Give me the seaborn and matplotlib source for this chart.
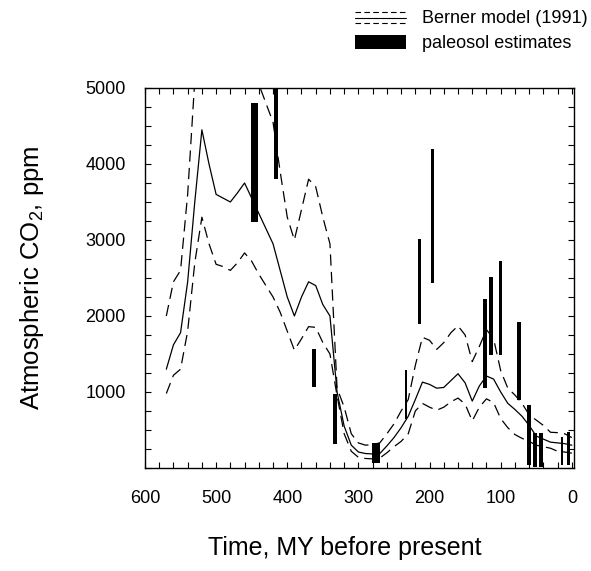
import numpy as np
import pandas as pd
import matplotlib
matplotlib.use("Agg")
import matplotlib.pyplot as plt
import seaborn as sns
from matplotlib.lines import Line2D
from matplotlib.patches import Patch
from matplotlib.legend_handler import HandlerBase
from matplotlib.ticker import MultipleLocator

# ---------------- data ----------------
ages = [570, 560, 550, 540, 530, 520, 510, 500, 490, 480, 470, 460, 450, 440, 430,
        420, 410, 400, 390, 380, 370, 360, 350, 340, 330, 320, 310, 300, 290, 280,
        270, 260, 250, 240, 230, 220, 210, 200, 190, 180, 170, 160, 150, 140, 130,
        120, 110, 100, 90, 80, 70, 60, 50, 40, 30, 20, 10, 0]

model_mean = [1300, 1620, 1780, 2450, 3500, 4450, 4000, 3600, 3550, 3500, 3620, 3750,
              3550, 3350, 3150, 2950, 2600, 2250, 2000, 2250, 2450, 2400, 2150, 2000,
              1000, 550, 300, 210, 190, 185, 190, 290, 400, 530, 680, 900, 1130, 1100,
              1050, 1060, 1150, 1240, 1120, 880, 1080, 1210, 1170, 1000, 850, 770, 680,
              560, 420, 380, 340, 330, 320, 300]

model_upper = [2000, 2450, 2600, 3600, 5100, 6500, 6000, 5400, 5300, 5250, 5400, 5600,
               5300, 5050, 4800, 4550, 3900, 3300, 3000, 3400, 3800, 3700, 3300, 2950,
               1050, 800, 450, 330, 300, 310, 330, 450, 580, 750, 900, 1350, 1720, 1680,
               1560, 1650, 1780, 1870, 1750, 1400, 1600, 1820, 1700, 1280, 1050, 960, 850,
               700, 630, 560, 470, 465, 450, 400]

model_lower = [980, 1220, 1300, 1800, 2700, 3300, 2950, 2680, 2650, 2600, 2700, 2830,
               2720, 2550, 2400, 2250, 2050, 1800, 1550, 1700, 1860, 1850, 1650, 1500,
               950, 450, 220, 140, 125, 120, 130, 200, 280, 350, 450, 750, 850, 800,
               760, 800, 870, 920, 840, 620, 800, 910, 860, 650, 530, 440, 390,
               350, 300, 280, 260, 220, 210, 195]

# paleosol estimates: age (MY), age span (MY), low and high CO2 (ppm)
paleo_age = [446, 416, 362, 333, 275, 233, 214, 196, 122, 114, 100, 74, 60, 52, 43, 14, 5]
paleo_span = [10, 5, 6, 6, 12, 4, 5, 5, 5, 5, 5, 5, 5, 5, 5, 3, 4]
paleo_low = [3240, 3800, 1060, 320, 70, 640, 1890, 2430, 1050, 1490, 1490, 890, 40, 15, 15, 40, 40]
paleo_high = [4800, 5600, 1570, 970, 330, 1290, 3010, 4200, 2220, 2510, 2720, 1920, 830, 460, 460, 410, 470]

x_ticks = [600, 500, 400, 300, 200, 100, 0]
y_ticks = [1000, 2000, 3000, 4000, 5000]

# ---------------- style ----------------
sns.set_style("ticks")
plt.rcParams["font.family"] = ["Liberation Sans", "DejaVu Sans"]
plt.rcParams["mathtext.fontset"] = "custom"
plt.rcParams["mathtext.rm"] = "Liberation Sans"
plt.rcParams["text.color"] = "black"
plt.rcParams["axes.labelcolor"] = "black"

fig = plt.figure(figsize=(5.91, 5.71), dpi=100)
ax = fig.add_axes([0.2453, 0.1804, 0.7259, 0.6655])

df = pd.DataFrame({
    "age": ages * 3,
    "co2": model_upper + model_mean + model_lower,
    "series": ["upper"] * len(ages) + ["mean"] * len(ages) + ["lower"] * len(ages),
})
sns.lineplot(data=df, x="age", y="co2", units="series", style="series",
             dashes={"upper": (9, 5), "mean": "", "lower": (9, 5)},
             color="black", linewidth=0.9, estimator=None, sort=False,
             legend=False, ax=ax, zorder=2)

ax.bar(paleo_age, np.array(paleo_high) - np.array(paleo_low), bottom=paleo_low,
       width=paleo_span, color="black", edgecolor="none", zorder=3)

ax.set_xlim(600, -3)
ax.set_ylim(0, 5000)
ax.set_xticks(x_ticks)
ax.set_yticks(y_ticks)
ax.xaxis.set_minor_locator(MultipleLocator(20))
ax.yaxis.set_minor_locator(MultipleLocator(250))
ax.tick_params(which="both", direction="in", top=True, right=True,
               length=4, width=0.8, color="black")
ax.tick_params(axis="x", which="major", labelsize=13, pad=16, labelcolor="black")
ax.tick_params(axis="y", which="major", labelsize=13, pad=14, labelcolor="black")
for s in ax.spines.values():
    s.set_color("black")
    s.set_linewidth(1.0)

ax.set_xlabel("Time, MY before present", fontsize=18, color="black")
ax.xaxis.set_label_coords(0.466, -0.18)
ax.set_ylabel(r"Atmospheric CO$_\mathregular{2}$, ppm", fontsize=18.5, color="black")
ax.yaxis.set_label_coords(-0.23, 0.5)


class ThreeLineHandler(HandlerBase):
    def create_artists(self, legend, orig_handle, xdescent, ydescent,
                       width, height, fontsize, trans):
        arts = []
        for frac, ls in [(0.8, (0, (5, 3))), (0.4, "-"), (0.0, (0, (5, 3)))]:
            y = frac * height - ydescent
            arts.append(Line2D([-xdescent, -xdescent + width], [y, y],
                               linestyle=ls, color="black", linewidth=0.8,
                               transform=trans))
        return arts


berner_handle = Line2D([], [], color="black")
paleo_handle = Patch(facecolor="black", edgecolor="none")
fig.legend([berner_handle, paleo_handle],
           ["Berner model (1991)", "paleosol estimates"],
           handler_map={berner_handle: ThreeLineHandler()},
           loc="upper right", bbox_to_anchor=(1.022, 1.012), frameon=False,
           fontsize=13, handlelength=2.8, handleheight=0.8, handletextpad=0.9,
           labelspacing=0.45, labelcolor="black")

fig.savefig("out.png", dpi=100, facecolor="white")
